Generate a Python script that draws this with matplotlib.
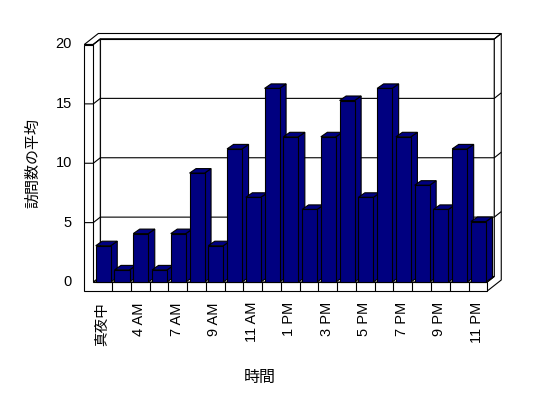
import matplotlib
matplotlib.use("Agg")
import matplotlib.pyplot as plt
from matplotlib.patches import Polygon

# data
hours = ['真夜中', '2 AM', '4 AM', '5 AM', '7 AM', '8 AM', '9 AM', '10 AM',
         '11 AM', '12 PM', '1 PM', '2 PM', '3 PM', '4 PM', '5 PM', '6 PM',
         '7 PM', '8 PM', '9 PM', '10 PM', '11 PM']
visits = [3, 1, 4, 1, 4, 9, 3, 11, 7, 16, 12, 6, 12, 15, 7, 16, 12, 8, 6, 11, 5]
yticks = [0, 5, 10, 15, 20]
ylabel = '訪問数の平均'
xlabel = '時間'

# pseudo-3d geometry (category units in x, value units in y)
px_x = 18.76          # pixels per category
px_y = 11.875         # pixels per value unit
x0_px, y0_px = 93.3, 282   # inner front corner of floor, from top-left
W, H = 548, 398
n = len(visits)
ymax = 20
dx, dy = 7 / px_x, 5.5 / px_y        # depth step to back wall
bdx, bdy = 6.5 / px_x, 4.5 / px_y    # bar depth
wall_t = 9 / px_x                    # left wall thickness
floor_b = -9 / px_y                  # floor bottom
persp = 12.1 / px_y                  # bars sit a bit nearer the eye

navy = '#000080'
lw = 0.8

fig = plt.figure(figsize=(W / 100, H / 100), dpi=100)
ax = fig.add_axes([0, 0, 1, 1])
ax.set_xlim(-x0_px / px_x, (W - x0_px) / px_x)
ax.set_ylim(-(H - y0_px) / px_y, y0_px / px_y)
ax.set_axis_off()


def poly(pts, fc='white', z=1):
    ax.add_patch(Polygon(pts, closed=True, facecolor=fc, edgecolor='black',
                         linewidth=lw, joinstyle='miter', zorder=z))


def line(xs, ys, z=2):
    ax.plot(xs, ys, color='black', linewidth=lw, zorder=z,
            solid_capstyle='butt')


# back wall inner face
poly([(dx, dy), (n + dx, dy), (n + dx, ymax + dy), (dx, ymax + dy)])
# top of walls
poly([(-wall_t, ymax), (0, ymax), (dx, ymax + dy), (n + dx, ymax + dy),
      (n + 2 * dx, ymax + 2 * dy), (-wall_t + 2 * dx, ymax + 2 * dy)])
# right side of floor + back wall
poly([(n, floor_b), (n, 0), (n + dx, dy), (n + dx, ymax + dy),
      (n + 2 * dx, ymax + 2 * dy), (n + 2 * dx, floor_b + 2 * dy)])
# floor top
poly([(0, 0), (n, 0), (n + dx, dy), (dx, dy)])
# left wall inner face
poly([(0, 0), (dx, dy), (dx, ymax + dy), (0, ymax)])
# front faces of left wall and floor
poly([(-wall_t, floor_b), (n, floor_b), (n, 0), (0, 0), (0, ymax),
      (-wall_t, ymax)])

# gridlines
for v in yticks[1:]:
    line([-wall_t, 0, dx, n + dx, n + 2 * dx],
         [v, v, v + dy, v + dy, v + 2 * dy])
# floor category dividers
for i in range(1, n):
    line([i, i], [floor_b, 0])

# bars
for i, v in enumerate(visits):
    a, b = i + 0.13, i + 0.93
    h = v * persp
    z = 10 + i
    poly([(b, 0), (b, h), (b + bdx, h + bdy), (b + bdx, bdy)], navy, z)
    poly([(a, h), (b, h), (b + bdx, h + bdy), (a + bdx, h + bdy)], navy, z)
    poly([(a, 0), (b, 0), (b, h), (a, h)], navy, z)

lat = ['Liberation Sans', 'Noto Sans CJK JP']
cjk = ['Noto Sans CJK JP', 'DejaVu Sans']

# y tick labels
for v in yticks:
    ax.text(-21.3 / px_x, v, str(v), ha='right', va='center',
            fontsize=10.5, family=lat)

# x tick labels, every second category
for i in range(0, n, 2):
    ax.text(i + 0.45, -20 / px_y, hours[i], rotation=90, ha='center',
            va='top', fontsize=10.5, family=lat)

ax.text((33 - x0_px) / px_x, ymax / 2, ylabel, rotation=90, ha='center',
        va='center', fontsize=10.8, family=cjk)
ax.text((260 - x0_px) / px_x, (y0_px - 377) / px_y, xlabel, ha='center',
        va='center', fontsize=11.5, family=cjk)

fig.savefig('out.png', dpi=100)
